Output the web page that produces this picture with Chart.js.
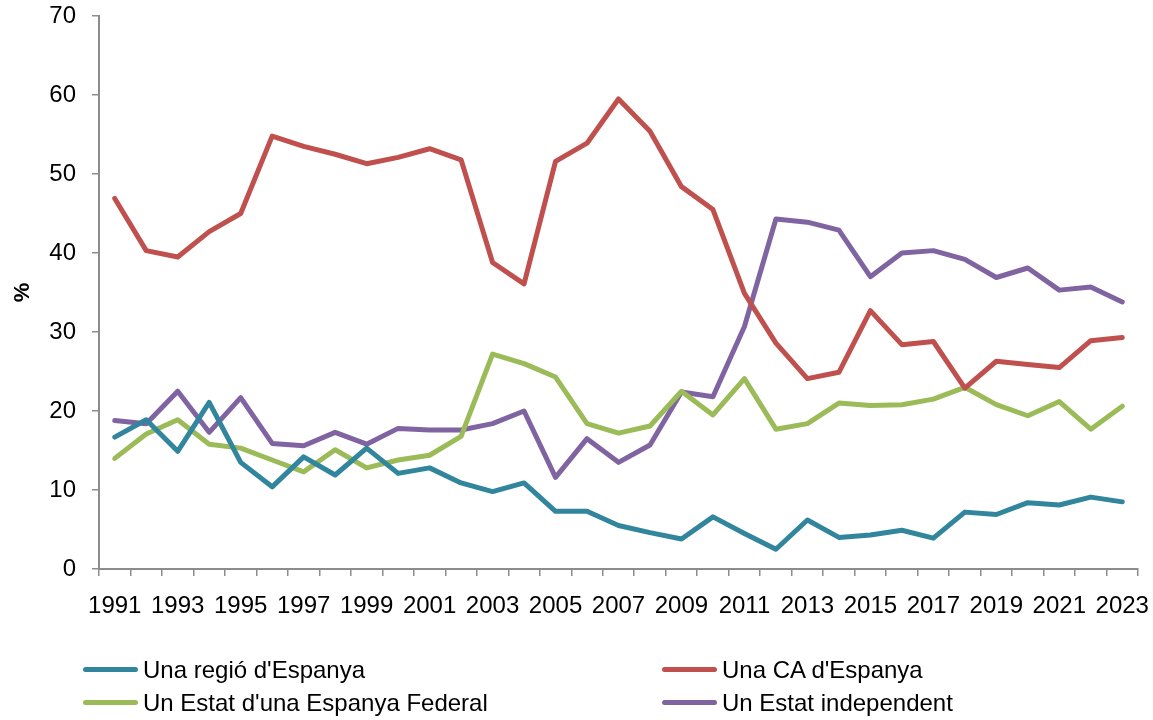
<!DOCTYPE html>
<html>
<head>
<meta charset="utf-8">
<script src="https://cdn.jsdelivr.net/npm/chart.js@4.4.0/dist/chart.umd.min.js"></script>
<style>
  html, body { margin: 0; padding: 0; background: #fff; }
  #wrap { position: relative; width: 1153px; height: 720px; }
  canvas { position: absolute; left: 0; top: 0; }
  .lg { position: absolute; font-family: "Liberation Sans Narrow", "Liberation Sans", sans-serif; font-size: 24px; color: #000; white-space: nowrap; line-height: 30px; height: 30px; }
  .lg span.sw { display: inline-block; width: 55px; height: 5px; border-radius: 3px; vertical-align: middle; margin-right: 5px; position: relative; top: -2px; }
</style>
</head>
<body>
<div id="wrap">
  <canvas id="c" width="1153" height="720"></canvas>
  <div id="legend"></div>
</div>
<script>
const years = [];
for (let y = 1991; y <= 2023; y++) years.push(String(y));

const seriesNames = ["Una regió d'Espanya", "Una CA d'Espanya", "Un Estat d'una Espanya Federal", "Un Estat independent"];
const seriesColors = ["#31859C", "#C0504D", "#9BBB59", "#8064A2"];

const regio = [16.7, 18.9, 14.9, 21.1, 13.5, 10.4, 14.2, 11.9, 15.3, 12.1, 12.8, 10.9, 9.8, 10.9, 7.3, 7.3, 5.5, 4.6, 3.8, 6.6, 4.5, 2.5, 6.2, 4.0, 4.3, 4.9, 3.9, 7.2, 6.9, 8.4, 8.1, 9.1, 8.5];
const ca = [46.9, 40.3, 39.5, 42.7, 45.0, 54.8, 53.5, 52.5, 51.3, 52.1, 53.2, 51.8, 38.8, 36.1, 51.6, 53.9, 59.5, 55.4, 48.4, 45.5, 34.9, 28.6, 24.1, 24.9, 32.7, 28.4, 28.8, 22.9, 26.3, 25.9, 25.5, 28.9, 29.3];
const federal = [14.0, 17.1, 18.9, 15.8, 15.3, 13.8, 12.3, 15.1, 12.8, 13.8, 14.4, 16.8, 27.2, 26.0, 24.3, 18.4, 17.2, 18.1, 22.5, 19.5, 24.1, 17.7, 18.4, 21.0, 20.7, 20.8, 21.5, 23.0, 20.8, 19.4, 21.2, 17.7, 20.6];
const independent = [18.8, 18.4, 22.5, 17.3, 21.7, 15.9, 15.6, 17.3, 15.8, 17.8, 17.6, 17.6, 18.4, 20.0, 11.6, 16.5, 13.5, 15.7, 22.4, 21.8, 30.7, 44.3, 43.9, 42.9, 37.0, 40.0, 40.3, 39.2, 36.9, 38.1, 35.3, 35.7, 33.8];
const yTicks = [0, 10, 20, 30, 40, 50, 60, 70];

const allData = [regio, ca, federal, independent];
const tickFont = { family: "'Liberation Sans Narrow', 'Liberation Sans', sans-serif", size: 24 };
const axisColor = "#8C8C8C";

new Chart(document.getElementById('c'), {
  type: 'line',
  data: {
    labels: years,
    datasets: allData.map((d, i) => ({
      label: seriesNames[i],
      data: d,
      borderColor: seriesColors[i],
      backgroundColor: seriesColors[i],
      borderWidth: 5,
      pointRadius: 0,
      pointHoverRadius: 0,
      tension: 0,
      borderJoinStyle: 'round',
      borderCapStyle: 'round'
    }))
  },
  options: {
    responsive: false,
    animation: false,
    events: [],
    layout: { padding: { left: 0, top: 16, right: 15, bottom: 91 } },
    plugins: { legend: { display: false }, tooltip: { enabled: false } },
    scales: {
      x: {
        type: 'category',
        offset: true,
        grid: { offset: true, drawOnChartArea: false, drawTicks: true, tickLength: 7, color: axisColor, lineWidth: 1.5 },
        border: { color: axisColor, width: 2 },
        ticks: {
          autoSkip: false, maxRotation: 0, minRotation: 0, padding: 16, color: '#000', font: tickFont,
          callback: function(v, i) { return (i % 2 === 0) ? years[i] : ''; }
        },
        afterFit: function(s) { s.height = 60; s.paddingLeft = 0; s.paddingRight = 0; }
      },
      y: {
        min: 0, max: 70,
        afterBuildTicks: function(s) { s.ticks = yTicks.map(v => ({ value: v })); },
        grid: { drawOnChartArea: false, drawTicks: true, tickLength: 7, color: axisColor, lineWidth: 1.5 },
        border: { color: axisColor, width: 2 },
        ticks: { padding: 16, color: '#000', font: tickFont },
        title: { display: true, text: '%', color: '#000', font: { family: "'Liberation Sans', sans-serif", size: 22, weight: 'bold' }, padding: { top: 10, bottom: 0 } },
        afterFit: function(s) { s.width = 99; s.paddingTop = 0; s.paddingBottom = 0; }
      }
    }
  }
});

// HTML legend (two columns)
const legendPos = [
  { x: 83, y: 655 }, { x: 662, y: 655 },
  { x: 83, y: 688 }, { x: 662, y: 688 }
];
const lg = document.getElementById('legend');
seriesNames.forEach((name, k) => {
  const d = document.createElement('div');
  d.className = 'lg';
  d.style.left = legendPos[k].x + 'px';
  d.style.top = legendPos[k].y + 'px';
  d.innerHTML = '<span class="sw" style="background:' + seriesColors[k] + '"></span>';
  d.appendChild(document.createTextNode(name));
  lg.appendChild(d);
});
</script>
</body>
</html>
